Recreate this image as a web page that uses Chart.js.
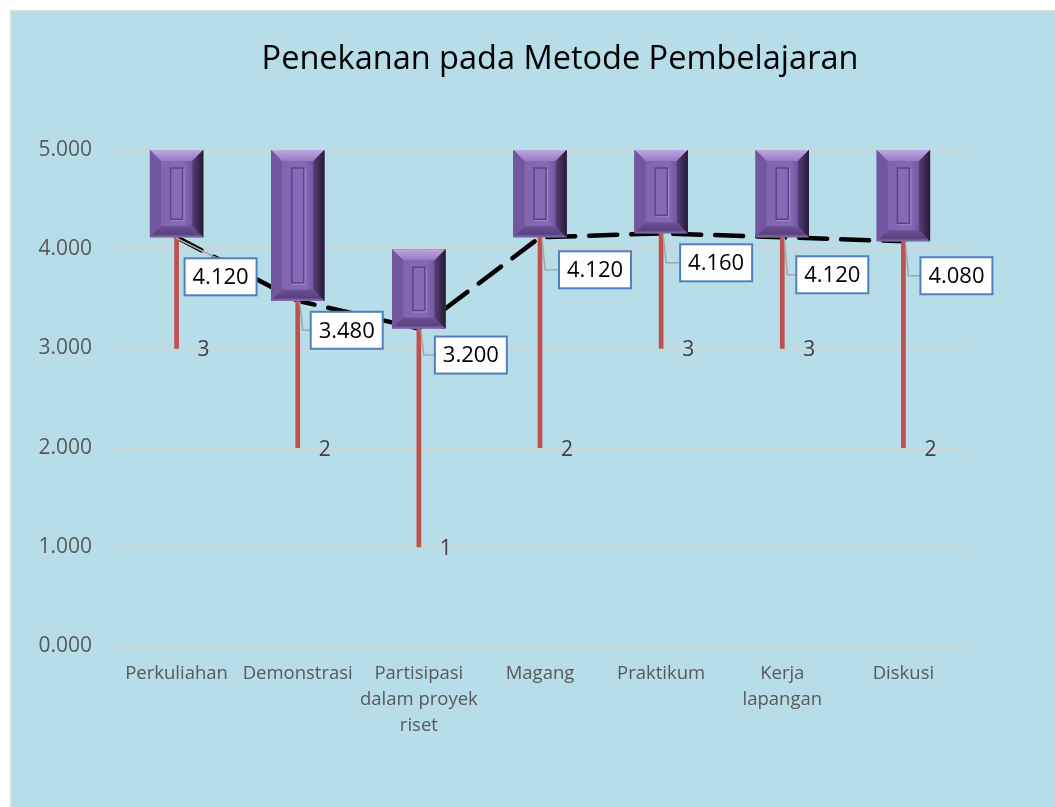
<!DOCTYPE html>
<html>
<head>
<meta charset="utf-8">
<title>Penekanan pada Metode Pembelajaran</title>
<script src="https://cdn.jsdelivr.net/npm/chart.js@4.4.1/dist/chart.umd.min.js"></script>
<style>
    html, body { margin: 0; padding: 0; overflow: hidden; background: #ffffff; }
    #frame {
        position: absolute;
        left: 10px;
        top: 10px;
        border-left: 2px solid #d9d9d9;
        border-top: 2px solid #d9d9d9;
        background: #b7dde8;
        width: 1043px;
        height: 795px;
    }
    #chart { display: block; }
</style>
</head>
<body>
<div id="frame"><canvas id="chart" width="1043" height="795"></canvas></div>
<script>
// Chart data
const chartTitle = 'Penekanan pada Metode Pembelajaran';
const categories = ['Perkuliahan', 'Demonstrasi', ['Partisipasi', 'dalam proyek', 'riset'], 'Magang', 'Praktikum', ['Kerja', 'lapangan'], 'Diskusi'];
const minScores = [3, 2, 1, 2, 3, 3, 2];
const meanScores = [4.12, 3.48, 3.2, 4.12, 4.16, 4.12, 4.08];
const maxScores = [5, 5, 4, 5, 5, 5, 5];

// label box placement relative to the mean point (layout only)
const boxOffsets = [[8, 21], [13, 11], [16, 8], [19, 14], [19, 11], [14, 19], [17, 16]];
const BOX_W = 72, BOX_H = 37;

const FONT = "'Open Sans', 'Noto Sans', sans-serif";

function drawBevel(ctx, l, t, r, b) {
    const s = 11;
    ctx.save();
    // face
    let g = ctx.createLinearGradient(l, 0, r, 0);
    g.addColorStop(0, '#6a4f92');
    g.addColorStop(0.2, '#8265b0');
    g.addColorStop(0.65, '#8668b4');
    g.addColorStop(0.86, '#684e92');
    g.addColorStop(1, '#2d2140');
    ctx.fillStyle = g;
    ctx.fillRect(l, t, r - l, b - t);

    // top bevel
    g = ctx.createLinearGradient(0, t, 0, t + s);
    g.addColorStop(0, '#bea8e2');
    g.addColorStop(1, '#9579c2');
    ctx.fillStyle = g;
    ctx.beginPath();
    ctx.moveTo(l, t); ctx.lineTo(r, t); ctx.lineTo(r - s, t + s); ctx.lineTo(l + s, t + s);
    ctx.closePath(); ctx.fill();

    // left bevel
    ctx.fillStyle = '#72569e';
    ctx.beginPath();
    ctx.moveTo(l, t); ctx.lineTo(l + s, t + s); ctx.lineTo(l + s, b - s); ctx.lineTo(l, b);
    ctx.closePath(); ctx.fill();

    // right bevel
    g = ctx.createLinearGradient(r - s, 0, r, 0);
    g.addColorStop(0, '#553e7a');
    g.addColorStop(1, '#261b33');
    ctx.fillStyle = g;
    ctx.beginPath();
    ctx.moveTo(r, t); ctx.lineTo(r - s, t + s); ctx.lineTo(r - s, b - s); ctx.lineTo(r, b);
    ctx.closePath(); ctx.fill();

    // bottom bevel
    g = ctx.createLinearGradient(0, b - s, 0, b);
    g.addColorStop(0, '#6c5196');
    g.addColorStop(0.7, '#584080');
    g.addColorStop(1, '#8a72b0');
    ctx.fillStyle = g;
    ctx.beginPath();
    ctx.moveTo(l, b); ctx.lineTo(r, b); ctx.lineTo(r - s, b - s); ctx.lineTo(l + s, b - s);
    ctx.closePath(); ctx.fill();

    // inner panel
    const cx = (l + r) / 2;
    const it = t + s + 7, ib = b - s - 7;
    if (ib - it > 6) {
        ctx.fillStyle = '#8769b6';
        ctx.fillRect(cx - 6, it, 12, ib - it);
        ctx.strokeStyle = '#5c4387';
        ctx.lineWidth = 1.5;
        ctx.strokeRect(cx - 6, it, 12, ib - it);
        ctx.strokeStyle = '#a08ac8';
        ctx.lineWidth = 1;
        ctx.beginPath();
        ctx.moveTo(cx + 7.5, it + 1); ctx.lineTo(cx + 7.5, ib + 1.5); ctx.lineTo(cx - 6, ib + 1.5);
        ctx.stroke();
    }
    ctx.restore();
}

const bevelPlugin = {
    id: 'bevelBars',
    afterDatasetDraw(chart, args) {
        if (args.index !== 0) return;
        const ctx = chart.ctx;
        args.meta.data.forEach(bar => {
            const p = bar.getProps(['x', 'y', 'base', 'width'], true);
            drawBevel(ctx, p.x - p.width / 2, Math.min(p.y, p.base), p.x + p.width / 2, Math.max(p.y, p.base));
        });
    }
};

// title sits off-centre in the original, so it is drawn here
const titlePlugin = {
    id: 'offsetTitle',
    afterDraw(chart) {
        const ctx = chart.ctx;
        ctx.save();
        ctx.font = '32.5px ' + FONT;
        ctx.fillStyle = '#000000';
        ctx.textAlign = 'center';
        ctx.textBaseline = 'middle';
        ctx.fillText(chartTitle, 548, 48);
        ctx.restore();
    }
};

const labelPlugin = {
    id: 'valueLabels',
    afterDatasetsDraw(chart) {
        const ctx = chart.ctx;
        const xScale = chart.scales.x;
        const yScale = chart.scales.y;
        ctx.save();
        meanScores.forEach((v, i) => {
            const x = xScale.getPixelForValue(i);
            const y = yScale.getPixelForValue(v);
            const yMin = yScale.getPixelForValue(minScores[i]);

            // min value label
            ctx.font = '21px ' + FONT;
            ctx.fillStyle = '#404040';
            ctx.textAlign = 'center';
            ctx.textBaseline = 'middle';
            ctx.fillText(String(minScores[i]), x + 27, yMin + 2);

            // leader line
            const bl = x + boxOffsets[i][0];
            const bt = y + boxOffsets[i][1];
            const cy = bt + BOX_H / 2;
            ctx.strokeStyle = '#a6a6a6';
            ctx.lineWidth = 1.5;
            ctx.beginPath();
            if (boxOffsets[i][0] < 10) {
                ctx.moveTo(x, y + 1);
                ctx.lineTo(bl + BOX_W * 0.45, bt);
            } else {
                ctx.moveTo(x + 2, y + 1);
                ctx.lineTo(x + 5, cy);
                ctx.lineTo(bl, cy);
            }
            ctx.stroke();

            // mean label box
            ctx.fillStyle = '#ffffff';
            ctx.fillRect(bl, bt, BOX_W, BOX_H);
            ctx.strokeStyle = '#4f81bd';
            ctx.lineWidth = 2;
            ctx.strokeRect(bl, bt, BOX_W, BOX_H);
            ctx.font = '22px ' + FONT;
            ctx.fillStyle = '#000000';
            ctx.fillText(v.toFixed(3), bl + BOX_W / 2, cy + 1);
        });
        ctx.restore();
    }
};

function renderChart() {
    const ctx = document.getElementById('chart').getContext('2d');

    new Chart(ctx, {
        data: {
            labels: categories,
            datasets: [
                {
                    type: 'bar',
                    label: 'Maks',
                    data: meanScores.map((m, i) => [m, maxScores[i]]),
                    backgroundColor: '#7d60a8',
                    borderWidth: 0,
                    grouped: false,
                    barPercentage: 0.44,
                    categoryPercentage: 1,
                    order: 1
                },
                {
                    type: 'bar',
                    label: 'Min',
                    data: minScores.map((m, i) => [m, meanScores[i]]),
                    backgroundColor: '#c0504d',
                    borderWidth: 0,
                    grouped: false,
                    barThickness: 4,
                    order: 2
                },
                {
                    type: 'line',
                    label: 'Rata-rata',
                    data: meanScores,
                    borderColor: '#000000',
                    borderWidth: 4.5,
                    borderDash: [28, 14],
                    borderCapStyle: 'round',
                    pointRadius: 0,
                    tension: 0,
                    order: 3
                }
            ]
        },
        options: {
            responsive: false,
            animation: false,
            layout: {
                padding: { left: 0, right: 91, top: 138, bottom: 0 }
            },
            scales: {
                x: {
                    grid: { display: false },
                    border: { display: false },
                    ticks: {
                        color: '#595959',
                        font: { family: FONT, size: 18.5, lineHeight: 1.4 },
                        padding: 7,
                        maxRotation: 0,
                        autoSkip: false
                    },
                    afterFit: scale => { scale.height = 161; }
                },
                y: {
                    min: 0,
                    max: 5,
                    grid: { color: '#d3d3d3', lineWidth: 2, drawTicks: false },
                    border: { display: false },
                    ticks: {
                        stepSize: 1,
                        color: '#595959',
                        font: { family: FONT, size: 21 },
                        padding: 24,
                        callback: v => v.toFixed(3)
                    },
                    afterFit: scale => { scale.width = 104; }
                }
            },
            plugins: {
                legend: { display: false },
                tooltip: { enabled: false },
                title: { display: false }
            }
        },
        plugins: [bevelPlugin, labelPlugin, titlePlugin]
    });
}

renderChart();
</script>
</body>
</html>
